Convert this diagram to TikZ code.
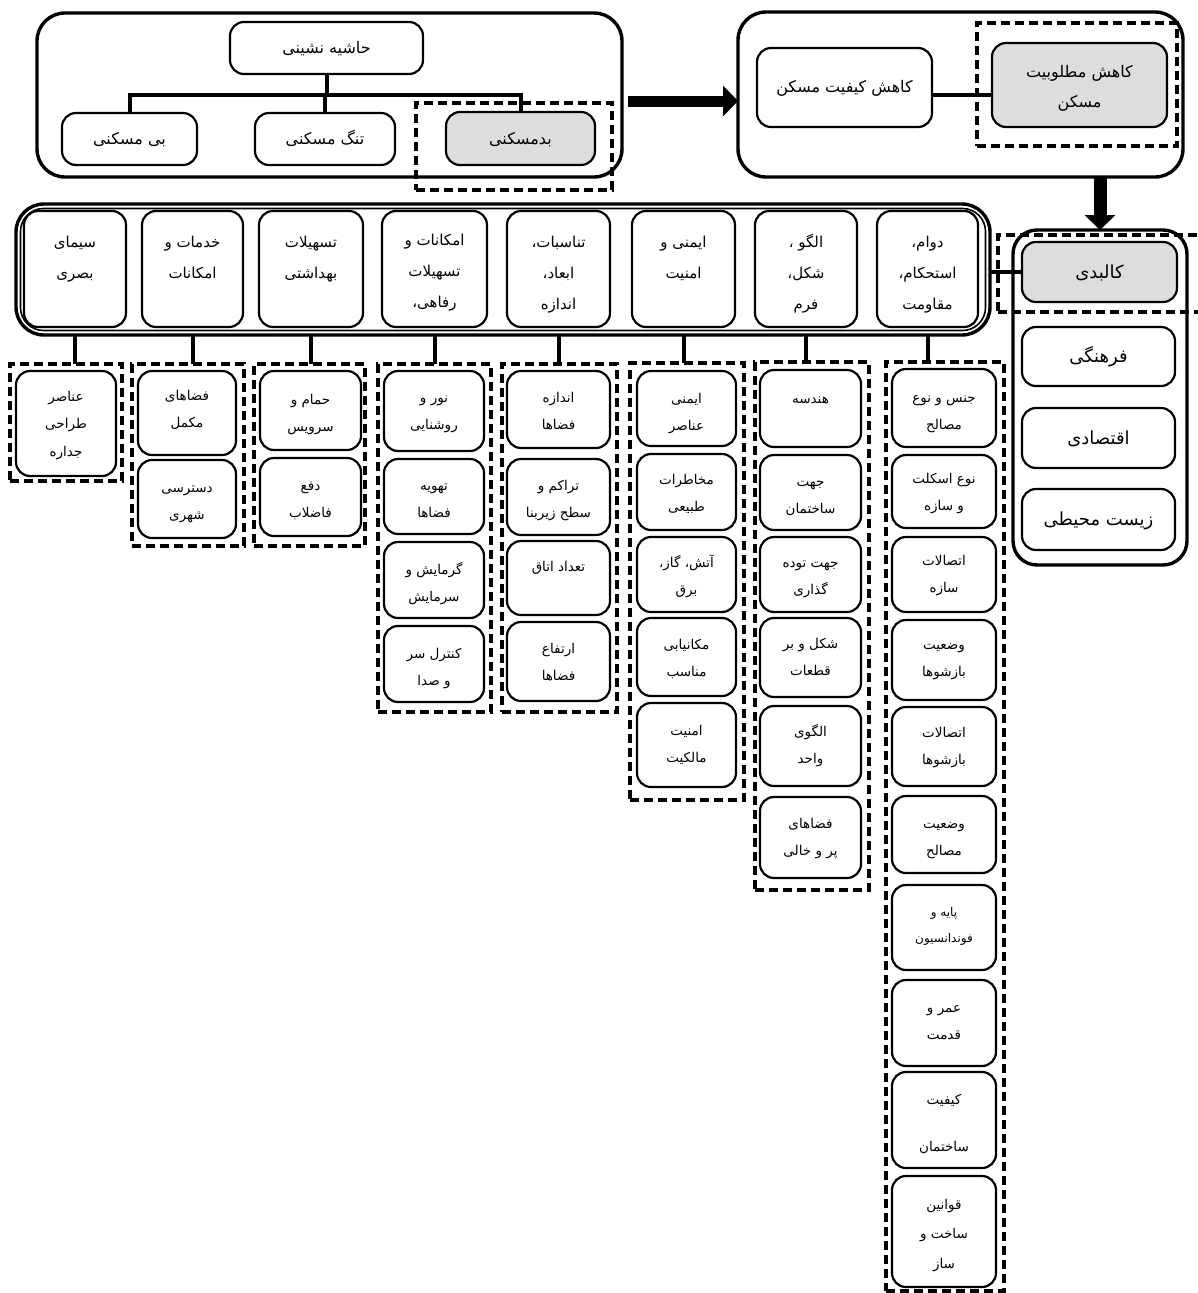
\documentclass[tikz,border=0pt]{standalone}
\usepackage{fontspec}
\newfontfamily\arabicfont[Script=Arabic]{DejaVu Sans}
\TeXXeTstate=1
\usetikzlibrary{arrows.meta}
\definecolor{boxgray}{RGB}{221,221,221}
\newcommand{\PT}[1]{\beginR #1\endR}
% #1 box style, #2 text style, #3 name, #4 x1, #5 y1, #6 x2, #7 y2, #8 first-baseline offset, #9 text
\newcommand{\mybox}[9]{%
  \node[#1, minimum width={#6-#4}, minimum height={#7-#5}] (#3) at ({(#4+#6)/2},{(#5+#7)/2}) {};
  \node[#2, anchor=north] (#3-t) at ({(#4+#6)/2},{#5+#8-20}) {\rule{0pt}{20pt}#9};
}
\newcommand{\mygrp}[5]{%
  \node[grp, minimum width={#4-#2}, minimum height={#5-#3}] (#1) at ({(#2+#4)/2},{(#3+#5)/2}) {};
}
\begin{document}
\begin{tikzpicture}[x=1pt,y=-1pt,
  box/.style={draw, line width=2.2pt, rounded corners=14pt, fill=white, inner sep=0pt, outer sep=0pt},
  graybox/.style={box, fill=boxgray},
  grp/.style={draw, line width=3.2pt, dash pattern=on 9pt off 5pt, inner sep=0pt, outer sep=0pt},
  cont/.style={draw, line width=3.4pt, rounded corners=28pt, inner sep=0pt, outer sep=0pt},
  conn/.style={line width=4pt},
  bigarrow/.style={line width=11pt, -{Triangle[length=15pt,width=30pt]}},
  txt/.style={font=\arabicfont\fontsize{13.5}{27.5}\selectfont, align=center, inner sep=0pt},
  ctxt/.style={font=\arabicfont\fontsize{15}{31}\selectfont, align=center, inner sep=0pt},
  btxt/.style={font=\arabicfont\fontsize{16}{30}\selectfont, align=center, inner sep=0pt},
  rtxt/.style={font=\arabicfont\fontsize{18}{30}\selectfont, align=center, inner sep=0pt},
  stxt/.style={font=\arabicfont\fontsize{12}{26}\selectfont, align=center, inner sep=0pt}
]
\useasboundingbox[fill=white] (0,0) rectangle (1198,1293);

% ---------------- top-left block ----------------
\node[cont, minimum width=585, minimum height=164] (tlc) at (329.5,95) {};
\mygrp{badg}{416}{103}{612}{190}
\mybox{box}{btxt}{hash}{230}{22}{423}{74}{31}{\PT{حاشیه نشینی}}
\mybox{box}{btxt}{bi}{62}{113}{197}{165}{31}{\PT{بی مسکنی}}
\mybox{box}{btxt}{tang}{255}{113}{395}{165}{31}{\PT{تنگ مسکنی}}
\mybox{graybox}{btxt}{bad}{446}{112}{595}{165}{32}{\PT{بدمسکنی}}
\coordinate (hbar) at (0,95);
\draw[conn] (hash.south) -- (hash.south |- hbar);
\draw[conn] (bi.north) |- (bad.north |- hbar) -- (bad.north);
\draw[conn] (tang.north) -- (tang.north |- hbar);

% ---------------- top-right block ----------------
\node[cont, minimum width=445, minimum height=165] (trc) at (960.5,94.5) {};
\mygrp{kmg}{977}{23}{1177}{146}
\mybox{box}{btxt}{kk}{757}{48}{932}{127}{44}{\PT{کاهش کیفیت مسکن}}
\mybox{graybox}{btxt}{km}{992}{43}{1167}{127}{34}{\PT{کاهش مطلوبیت}\\\PT{مسکن}}
\coordinate (kbar) at (0,95);
\draw[conn] (kk.east |- kbar) -- (km.west |- kbar);

\coordinate (abar) at (0,101);
\draw[bigarrow, shorten <=6pt] (tlc.east |- abar) -- (trc.west |- abar);

% ---------------- right column ----------------
\node[cont, rounded corners=24pt, minimum width=174, minimum height=335] (rcol) at (1100,397.5) {};
\mygrp{kalg}{998}{235}{1220}{312}
\mybox{graybox}{rtxt}{kal}{1022}{242}{1177}{302}{36}{\PT{کالبدی}}
\mybox{box}{rtxt}{farh}{1022}{327}{1175}{386}{35}{\PT{فرهنگی}}
\mybox{box}{rtxt}{eqt}{1022}{408}{1175}{468}{36}{\PT{اقتصادی}}
\mybox{box}{rtxt}{zist}{1022}{489}{1175}{550}{36}{\PT{زیست محیطی}}
\draw[bigarrow, line width=13pt] (rcol.north |- trc.south) -- (rcol.north);

% ---------------- row of categories ----------------
\node[cont, minimum width=974, minimum height=131] (rowc) at (503,269.5) {};
\node[draw, line width=1.6pt, rounded corners=23pt, minimum width=965, minimum height=122, inner sep=0pt, outer sep=0pt] (rowci) at (503,269.5) {};
\draw[conn] (kal.west -| rowc.east) -- (kal.west);

\mybox{box}{ctxt}{c1}{877}{211}{978}{327}{36}{\PT{دوام،}\\\PT{استحکام،}\\\PT{مقاومت}}
\mybox{box}{ctxt}{c2}{755}{211}{857}{327}{36}{\PT{الگو ،}\\\PT{شکل،}\\\PT{فرم}}
\mybox{box}{ctxt}{c3}{632}{211}{735}{327}{36}{\PT{ایمنی و}\\\PT{امنیت}}
\mybox{box}{ctxt}{c4}{507}{211}{610}{327}{36}{\PT{تناسبات،}\\\PT{ابعاد،}\\\PT{اندازه}}
\mybox{box}{ctxt}{c5}{382}{211}{487}{327}{34}{\PT{امکانات و}\\\PT{تسهیلات}\\\PT{رفاهی،}}
\mybox{box}{ctxt}{c6}{259}{211}{363}{327}{36}{\PT{تسهیلات}\\\PT{بهداشتی}}
\mybox{box}{ctxt}{c7}{142}{211}{243}{327}{36}{\PT{خدمات و}\\\PT{امکانات}}
\mybox{box}{ctxt}{c8}{24}{211}{126}{327}{36}{\PT{سیمای}\\\PT{بصری}}

% ---------------- dashed groups ----------------
\mygrp{g1}{886}{362}{1004}{1291}
\mygrp{g2}{755}{362}{869}{890}
\mygrp{g3}{630}{363}{744}{800}
\mygrp{g4}{502}{364}{617}{712}
\mygrp{g5}{378}{364}{491}{712}
\mygrp{g6}{254}{364}{365}{546}
\mygrp{g7}{132}{364}{244}{546}
\mygrp{g8}{10}{364}{122}{481}

\foreach \i in {1,...,8}{
  \draw[conn] (c\i.south |- rowc.south) -- (c\i.south |- g\i.north);
}

% column 1
\mybox{box}{txt}{s11}{892}{369}{996}{447}{33}{\PT{جنس و نوع}\\\PT{مصالح}}
\mybox{box}{txt}{s12}{892}{455}{996}{528}{28}{\PT{نوع اسکلت}\\\PT{و سازه}}
\mybox{box}{txt}{s13}{892}{537}{996}{612}{28}{\PT{اتصالات}\\\PT{سازه}}
\mybox{box}{txt}{s14}{892}{620}{996}{700}{29}{\PT{وضعیت}\\\PT{بازشوها}}
\mybox{box}{txt}{s15}{892}{707}{996}{786}{30}{\PT{اتصالات}\\\PT{بازشوها}}
\mybox{box}{txt}{s16}{892}{796}{996}{873}{32}{\PT{وضعیت}\\\PT{مصالح}}
\mybox{box}{stxt}{s17}{892}{885}{996}{970}{31}{\PT{پایه و}\\\PT{فوندانسیون}}
\mybox{box}{txt}{s18}{892}{980}{996}{1066}{32}{\PT{عمر و}\\\PT{قدمت}}
\mybox{box}{txt}{s19}{892}{1072}{996}{1168}{32}{\PT{کیفیت}\\[20pt]\PT{ساختمان}}
\mybox{box}{txt}{s110}{892}{1176}{996}{1287}{33}{\PT{قوانین}\\[2pt]\PT{ساخت و}\\[2pt]\PT{ساز}}

% column 2
\mybox{box}{txt}{s21}{760}{370}{861}{447}{33}{\PT{هندسه}}
\mybox{box}{txt}{s22}{760}{455}{861}{530}{31}{\PT{جهت}\\\PT{ساختمان}}
\mybox{box}{txt}{s23}{760}{537}{861}{612}{30}{\PT{جهت توده}\\\PT{گذاری}}
\mybox{box}{txt}{s24}{760}{618}{861}{697}{30}{\PT{شکل و بر}\\\PT{قطعات}}
\mybox{box}{txt}{s25}{760}{706}{861}{786}{30}{\PT{الگوی}\\\PT{واحد}}
\mybox{box}{txt}{s26}{760}{797}{861}{878}{31}{\PT{فضاهای}\\\PT{پر و خالی}}

% column 3
\mybox{box}{txt}{s31}{637}{371}{736}{446}{32}{\PT{ایمنی}\\\PT{عناصر}}
\mybox{box}{txt}{s32}{637}{454}{736}{530}{30}{\PT{مخاطرات}\\\PT{طبیعی}}
\mybox{box}{txt}{s33}{637}{537}{736}{612}{30}{\PT{آتش، گاز،}\\\PT{برق}}
\mybox{box}{txt}{s34}{637}{618}{736}{696}{31}{\PT{مکانیابی}\\\PT{مناسب}}
\mybox{box}{txt}{s35}{637}{703}{736}{787}{32}{\PT{امنیت}\\\PT{مالکیت}}

% column 4
\mybox{box}{txt}{s41}{507}{371}{610}{448}{31}{\PT{اندازه}\\\PT{فضاها}}
\mybox{box}{txt}{s42}{507}{459}{610}{535}{31}{\PT{تراکم و}\\\PT{سطح زیربنا}}
\mybox{box}{txt}{s43}{507}{541}{610}{615}{30}{\PT{تعداد اتاق}}
\mybox{box}{txt}{s44}{507}{622}{610}{701}{31}{\PT{ارتفاع}\\\PT{فضاها}}

% column 5
\mybox{box}{txt}{s51}{384}{371}{484}{451}{31}{\PT{نور و}\\\PT{روشنایی}}
\mybox{box}{txt}{s52}{384}{459}{484}{534}{31}{\PT{تهویه}\\\PT{فضاها}}
\mybox{box}{txt}{s53}{384}{542}{484}{618}{32}{\PT{گرمایش و}\\\PT{سرمایش}}
\mybox{box}{txt}{s54}{384}{626}{484}{702}{32}{\PT{کنترل سر}\\\PT{و صدا}}

% column 6
\mybox{box}{txt}{s61}{260}{371}{361}{450}{33}{\PT{حمام و}\\\PT{سرویس}}
\mybox{box}{txt}{s62}{260}{458}{361}{536}{32}{\PT{دفع}\\\PT{فاضلاب}}

% column 7
\mybox{box}{txt}{s71}{138}{371}{236}{455}{29}{\PT{فضاهای}\\\PT{مکمل}}
\mybox{box}{txt}{s72}{138}{460}{236}{538}{32}{\PT{دسترسی}\\\PT{شهری}}

% column 8
\mybox{box}{txt}{s81}{16}{371}{116}{476}{30}{\PT{عناصر}\\\PT{طراحی}\\\PT{جداره}}

\end{tikzpicture}
\end{document}
